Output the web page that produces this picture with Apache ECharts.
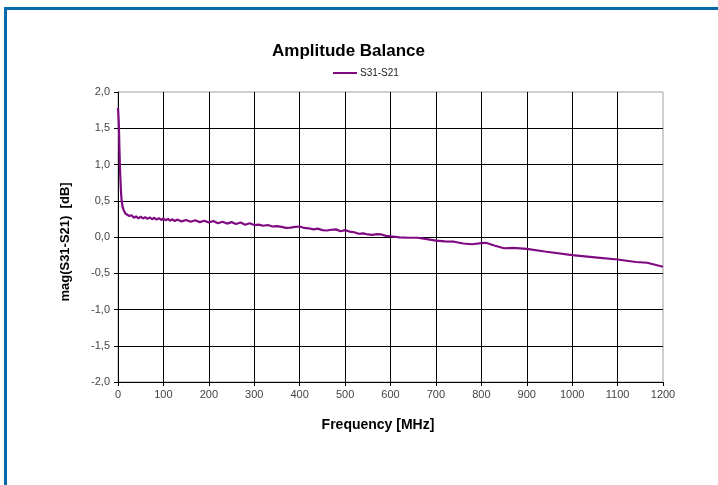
<!DOCTYPE html>
<html>
<head>
<meta charset="utf-8">
<script src="https://cdn.jsdelivr.net/npm/echarts@6/dist/echarts.min.js"></script>
<style>
html,body{margin:0;padding:0;background:#fff;}
#c{width:718px;height:485px;}
</style>
</head>
<body>
<div id="c"></div>
<script>
const chartTitle = "Amplitude Balance";
const seriesName = "S31-S21";
const xAxisName = "Frequency [MHz]";
const yAxisName = "mag(S31-S21)  [dB]";

const freqMHz = [0,1,2,3,4,5,6,7,8,10,12,14,17,20,25,30,35,40,45,50,55,60,65,70,75,80,85,90,95,100,
  105,110,115,120,125,130,140,150,160,170,180,190,200,210,220,230,240,250,260,270,280,290,300,
  310,320,330,340,350,360,370,380,390,400,410,420,430,440,450,460,470,480,490,500,510,520,530,540,
  550,560,570,580,590,600,620,640,660,680,700,720,740,760,780,800,810,830,850,870,900,940,1000,1050,
  1100,1140,1165,1200];
const s31s21 = [1.78,1.68,1.52,1.25,1.02,0.84,0.70,0.58,0.50,0.42,0.38,0.35,0.32,0.31,0.29,0.30,0.265,0.285,0.255,0.28,
  0.255,0.275,0.25,0.27,0.245,0.265,0.24,0.26,0.235,0.255,
  0.23,0.25,0.225,0.245,0.22,0.24,0.215,0.235,0.21,0.23,0.205,0.225,0.2,0.22,0.19,0.21,0.185,0.205,0.18,0.2,0.17,0.19,0.165,
  0.17,0.155,0.165,0.145,0.15,0.14,0.125,0.13,0.14,0.145,0.125,0.12,0.105,0.115,0.095,0.09,0.1,0.105,0.08,0.095,0.075,0.065,0.045,0.05,
  0.035,0.03,0.04,0.035,0.015,0.01,-0.005,-0.01,-0.01,-0.03,-0.05,-0.06,-0.065,-0.09,-0.1,-0.085,-0.08,-0.12,-0.155,-0.15,-0.165,-0.2,-0.25,-0.28,
  -0.31,-0.345,-0.355,-0.41];

const xMin = 0, xMax = 1200, xStep = 100;
const yMin = -2, yMax = 2, yStep = 0.5;

const chart = echarts.init(document.getElementById('c'), null, {renderer:'canvas'});
const font = '"Liberation Sans", Arial, sans-serif';
chart.setOption({
  animation:false,
  backgroundColor:'#fff',
  title:{
    text:chartTitle, left:267, top:38,
    textStyle:{fontFamily:font, fontSize:17, fontWeight:'bold', color:'#000'}
  },
  legend:{
    data:[seriesName], left:328, top:63, itemWidth:24, itemHeight:2, itemGap:4,
    icon:'rect',
    textStyle:{fontFamily:font, fontSize:10, color:'#222', padding:[0,0,0,-2]}
  },
  graphic:[
    {type:'rect', shape:{x:4,y:7,width:714,height:3}, style:{fill:'#0769a9'}, silent:true},
    {type:'rect', shape:{x:4,y:7,width:3,height:478}, style:{fill:'#0769a9'}, silent:true}
  ],
  grid:{left:118, right:55, top:92, bottom:103, show:true, borderColor:'#a0a0a0', borderWidth:1, backgroundColor:'#fff'},
  xAxis:{
    type:'value', min:xMin, max:xMax, interval:xStep,
    name:xAxisName, nameLocation:'middle', nameGap:36,
    nameTextStyle:{fontFamily:font, fontSize:14, fontWeight:'bold', color:'#000', padding:[0,25,0,0]},
    axisLine:{show:true, onZero:false, lineStyle:{color:'#000', width:1}},
    axisTick:{show:true, length:4, lineStyle:{color:'#000'}},
    axisLabel:{fontFamily:font, fontSize:11, color:'#444', margin:7, formatter:v=>String(v)},
    splitLine:{show:true, showMinLine:false, showMaxLine:false, lineStyle:{color:'#000', width:1}}
  },
  yAxis:{
    type:'value', min:yMin, max:yMax, interval:yStep,
    name:yAxisName, nameLocation:'middle', nameGap:46, nameRotate:90,
    nameTextStyle:{fontFamily:font, fontSize:13, fontWeight:'bold', color:'#000', padding:[0,10,0,0]},
    axisLine:{show:true, lineStyle:{color:'#000', width:1}},
    axisTick:{show:true, length:4, lineStyle:{color:'#000'}},
    axisLabel:{fontFamily:font, fontSize:11, color:'#444', margin:8,
      formatter:v=>v.toFixed(1).replace('.', ',')},
    splitLine:{show:true, showMinLine:false, showMaxLine:false, lineStyle:{color:'#000', width:1}}
  },
  series:[{
    name:seriesName, type:'line', showSymbol:false, symbol:'none',
    data:freqMHz.map((f,i)=>[f, s31s21[i]]),
    lineStyle:{color:'#800a82', width:2.2},
    itemStyle:{color:'#800a82'},
    smooth:false
  }]
});
</script>
</body>
</html>
